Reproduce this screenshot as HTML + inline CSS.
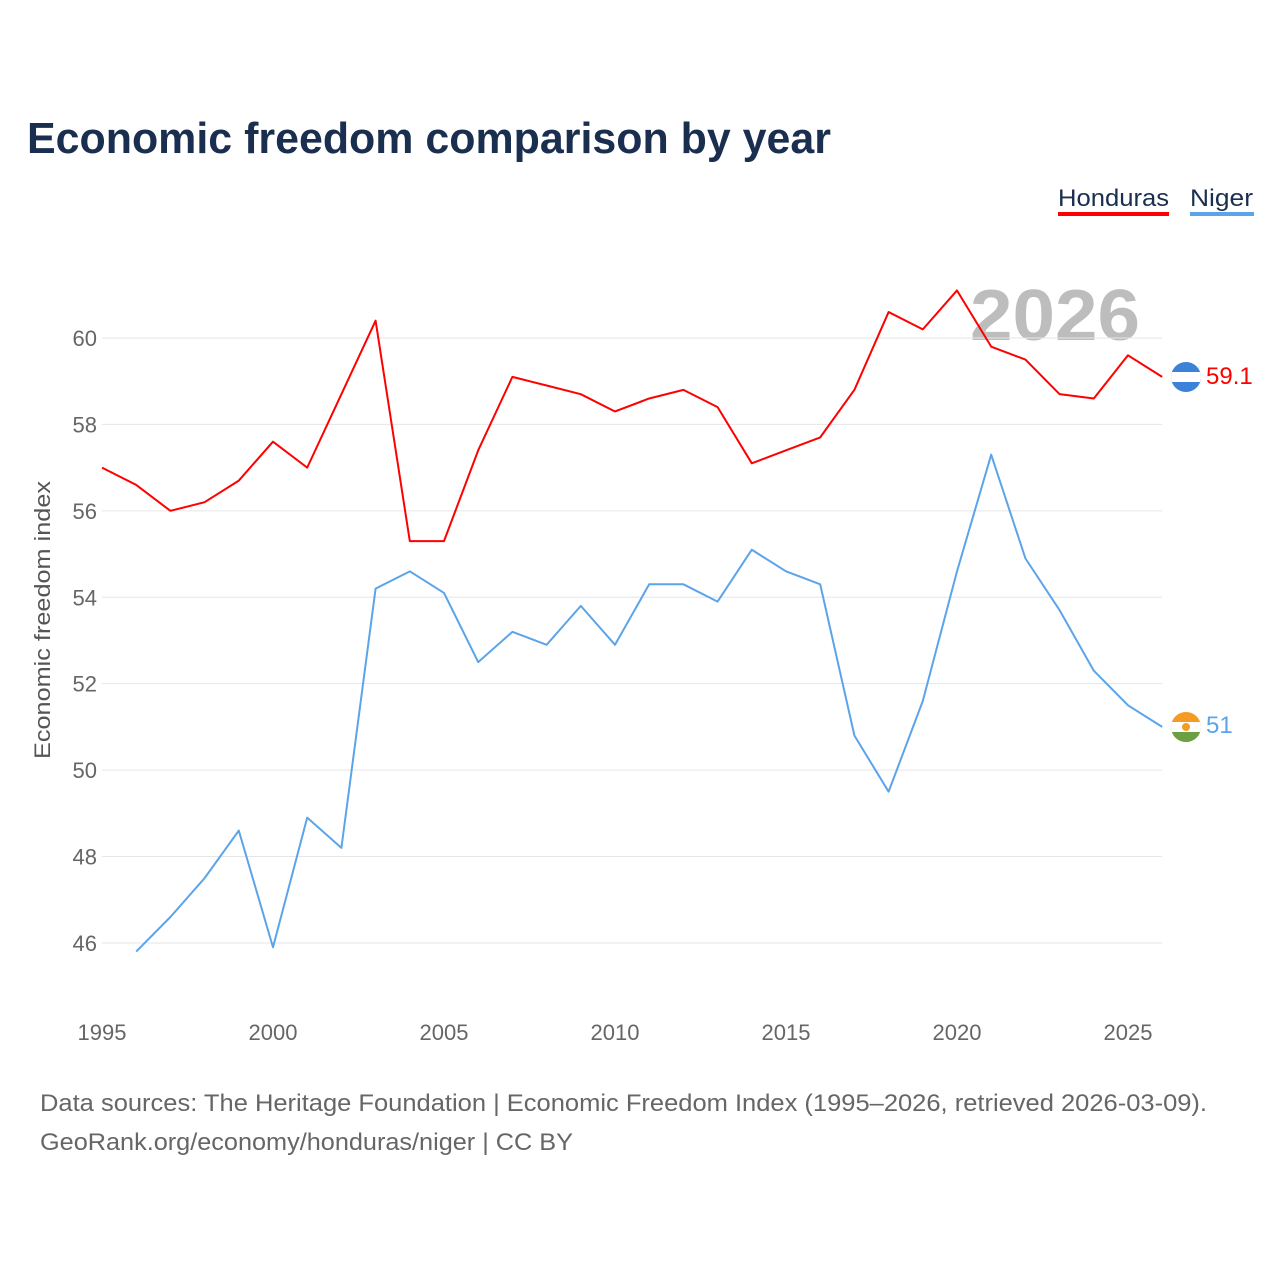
<!DOCTYPE html>
<html><head><meta charset="utf-8"><style>
body{margin:0;background:#fff;font-family:"Liberation Sans",sans-serif;}
svg text{font-family:"Liberation Sans",sans-serif;}
</style></head><body>
<svg id="chart" width="1280" height="1280" viewBox="0 0 1280 1280">
<text x="27" y="153" font-size="44" font-weight="bold" fill="#1a2e4f" textLength="804" lengthAdjust="spacingAndGlyphs">Economic freedom comparison by year</text>
<g><text x="1058" y="206" font-size="24" fill="#1a2e4f" textLength="111" lengthAdjust="spacingAndGlyphs">Honduras</text><rect x="1058" y="212" width="111" height="4" fill="#ff0000"/></g>
<g><text x="1190" y="206" font-size="24" fill="#1a2e4f" textLength="63" lengthAdjust="spacingAndGlyphs">Niger</text><rect x="1190" y="212" width="64" height="4" fill="#5ba4ea"/></g>
<text x="1140" y="340" font-size="72" font-weight="bold" fill="#bdbdbd" text-anchor="end" textLength="170" lengthAdjust="spacingAndGlyphs">2026</text>
<g id="grid"></g><g id="xt"></g><g id="lines"></g>
<text transform="translate(50,620) rotate(-90)" font-size="22" fill="#555" text-anchor="middle" textLength="278" lengthAdjust="spacingAndGlyphs">Economic freedom index</text>
<g><clipPath id="c1"><circle cx="1186" cy="377" r="15"/></clipPath><g clip-path="url(#c1)"><rect x="1170" y="361" width="32" height="32" fill="#3b82d8"/><rect x="1170" y="372" width="32" height="10" fill="#fff"/></g></g>
<g><clipPath id="c2"><circle cx="1186" cy="727" r="15"/></clipPath><g clip-path="url(#c2)"><rect x="1170" y="711" width="32" height="32" fill="#f59a23"/><rect x="1170" y="722" width="32" height="10" fill="#fff"/><rect x="1170" y="732" width="32" height="11" fill="#6aa042"/><circle cx="1186" cy="727" r="4" fill="#f59a23"/></g></g>
<text x="1206" y="384" font-size="24" fill="#ff0000">59.1</text>
<text x="1206" y="733" font-size="24" fill="#5ba4ea">51</text>
<text x="40" y="1111" font-size="24" fill="#666" textLength="1167" lengthAdjust="spacingAndGlyphs">Data sources: The Heritage Foundation | Economic Freedom Index (1995–2026, retrieved 2026-03-09).</text>
<text x="40" y="1150" font-size="24" fill="#666" textLength="533" lengthAdjust="spacingAndGlyphs">GeoRank.org/economy/honduras/niger | CC BY</text>
</svg>
<script>
const years=[1995,1996,1997,1998,1999,2000,2001,2002,2003,2004,2005,2006,2007,2008,2009,2010,2011,2012,2013,2014,2015,2016,2017,2018,2019,2020,2021,2022,2023,2024,2025,2026];
const honduras=[57.0,56.6,56.0,56.2,56.7,57.6,57.0,58.7,60.4,55.3,55.3,57.4,59.1,58.9,58.7,58.3,58.6,58.8,58.4,57.1,57.4,57.7,58.8,60.6,60.2,61.1,59.8,59.5,58.7,58.6,59.6,59.1];
const niger=[null,45.8,46.6,47.5,48.6,45.9,48.9,48.2,54.2,54.6,54.1,52.5,53.2,52.9,53.8,52.9,54.3,54.3,53.9,55.1,54.6,54.3,50.8,49.5,51.6,54.6,57.3,54.9,53.7,52.3,51.5,51.0];
const yTicks=[46,48,50,52,54,56,58,60];
const xTicks=[1995,2000,2005,2010,2015,2020,2025];
const NS="http://www.w3.org/2000/svg";
const x=v=>102+(v-1995)*34.2;
const y=v=>338+(60-v)*43.21;
function mk(t,a,p){const e=document.createElementNS(NS,t);for(const k in a)e.setAttribute(k,a[k]);p.appendChild(e);return e;}
const g=document.getElementById('grid');
yTicks.forEach(t=>{
 const l=mk('line',{x1:102,x2:1162,y1:y(t),y2:y(t),stroke:'#e6e6e6','stroke-width':1},g);
 
 
 const tx=mk('text',{x:97,y:y(t)+8,'font-size':22,fill:'#666','text-anchor':'end'},g);
 tx.textContent=t;
 
 
});
const xg=document.getElementById('xt');
xTicks.forEach(t=>{
 const tx=mk('text',{x:x(t),y:1040,'font-size':22,fill:'#666','text-anchor':'middle'},xg);
 tx.textContent=t;
 
 
});
const lg=document.getElementById('lines');
function line(vals,color,name){
 const pts=[];vals.forEach((v,i)=>{if(v!=null)pts.push(x(years[i])+','+y(v));});
 const p=mk('polyline',{points:pts.join(' '),fill:'none',stroke:color,'stroke-width':2,'stroke-linejoin':'round'},lg);
 
 
}
line(honduras,'#ff0000','line-honduras');
line(niger,'#5ba4ea','line-niger');
</script>
</body></html>
